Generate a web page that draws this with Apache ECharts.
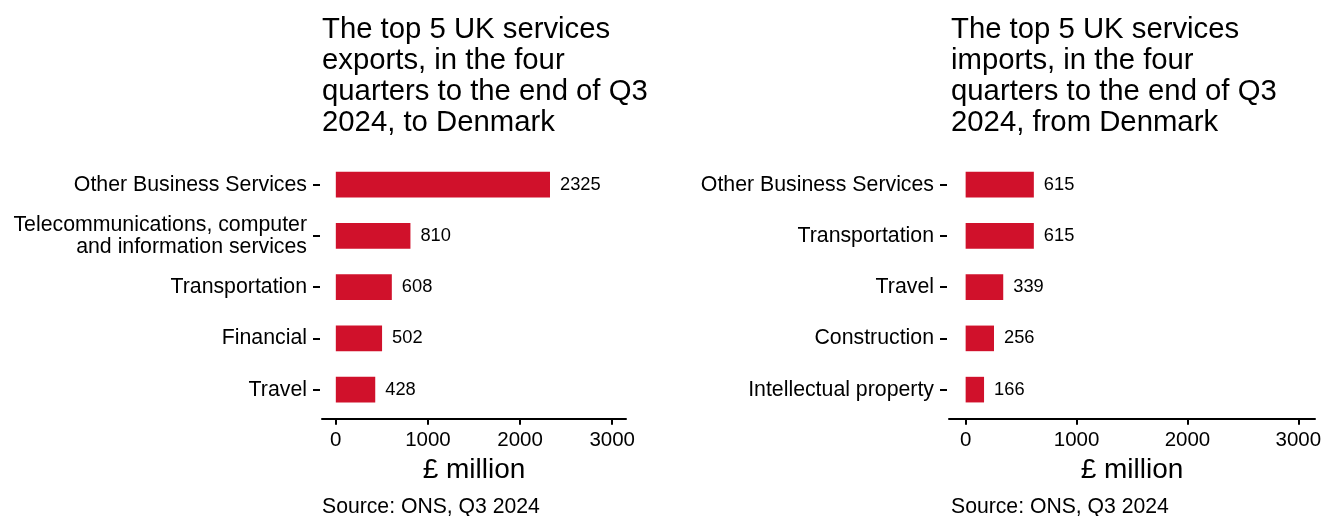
<!DOCTYPE html>
<html>
<head>
<meta charset="utf-8">
<script src="https://cdn.jsdelivr.net/npm/echarts@6/dist/echarts.min.js"></script>
<style>
  html, body { margin: 0; padding: 0; background: #fff; }
  #chart { width: 1325px; height: 516px; }
</style>
</head>
<body>
<div id="chart"></div>
<script>
const exportCategories = ["Other Business Services", "Telecommunications, computer\nand information services", "Transportation", "Financial", "Travel"];
const exportValues = [2325, 810, 608, 502, 428];
const importCategories = ["Other Business Services", "Transportation", "Travel", "Construction", "Intellectual property"];
const importValues = [615, 615, 339, 256, 166];
const xTickValues = [0, 1000, 2000, 3000];
const exportTitle = "The top 5 UK services\nexports, in the four\nquarters to the end of Q3\n2024, to Denmark";
const importTitle = "The top 5 UK services\nimports, in the four\nquarters to the end of Q3\n2024, from Denmark";
const sourceText = "Source: ONS, Q3 2024";
const axisName = "£ million";

const FONT = "'Liberation Sans', Arial, sans-serif";
const BAR = "#d0112b";

const chart = echarts.init(document.getElementById('chart'), null, { renderer: 'canvas' });

function xAxisFor(gridIndex) {
  return {
    type: 'value', gridIndex: gridIndex, min: -150, max: 3150, offset: 3.5,
    name: axisName, nameLocation: 'middle', nameGap: 37.5,
    nameTextStyle: { fontFamily: FONT, fontSize: 28, lineHeight: 28, color: '#000' },
    axisLine: { show: true, onZero: false, lineStyle: { color: '#000', width: 2 } },
    axisTick: { show: true, length: 6, lineStyle: { color: '#000', width: 2 }, customValues: xTickValues },
    axisLabel: { fontFamily: FONT, fontSize: 20.5, color: '#000', margin: 11.5, customValues: xTickValues,
      formatter: function (v) { return String(v); } },
    splitLine: { show: false }
  };
}
function yAxisFor(gridIndex, cats) {
  return {
    type: 'category', gridIndex: gridIndex, data: cats, inverse: true, offset: 2,
    axisLine: { show: false, onZero: false },
    axisTick: { show: true, alignWithLabel: true, length: 7, lineStyle: { color: '#000', width: 2 } },
    axisLabel: { fontFamily: FONT, fontSize: 21.3, lineHeight: 22, color: '#000', margin: 13, align: 'right' },
    splitLine: { show: false }
  };
}
function seriesFor(idx, vals) {
  return {
    type: 'bar', xAxisIndex: idx, yAxisIndex: idx, data: vals, barWidth: '50%',
    itemStyle: { color: BAR },
    label: { show: true, position: 'right', distance: 10, fontFamily: FONT, fontSize: 18.3, color: '#000' },
    silent: true
  };
}

const option = {
  animation: false,
  backgroundColor: '#fff',
  textStyle: { fontFamily: FONT },
  title: [
    { text: exportTitle, left: 322, top: 14, textStyle: { fontFamily: FONT, fontSize: 29.3, lineHeight: 31, fontWeight: 'normal', color: '#000' }, padding: 0 },
    { text: importTitle, left: 951, top: 14, textStyle: { fontFamily: FONT, fontSize: 29.3, lineHeight: 31, fontWeight: 'normal', color: '#000' }, padding: 0 },
    { text: sourceText, left: 322, top: 495, textStyle: { fontFamily: FONT, fontSize: 21.2, lineHeight: 24, fontWeight: 'normal', color: '#000' }, padding: 0 },
    { text: sourceText, left: 951, top: 495, textStyle: { fontFamily: FONT, fontSize: 21.2, lineHeight: 24, fontWeight: 'normal', color: '#000' }, padding: 0 }
  ],
  grid: [
    { left: 322, top: 159, width: 304, height: 256.25, containLabel: false },
    { left: 949, top: 159, width: 366, height: 256.25, containLabel: false }
  ],
  xAxis: [xAxisFor(0), xAxisFor(1)],
  yAxis: [yAxisFor(0, exportCategories), yAxisFor(1, importCategories)],
  series: [seriesFor(0, exportValues), seriesFor(1, importValues)]
};
chart.setOption(option);
</script>
</body>
</html>
